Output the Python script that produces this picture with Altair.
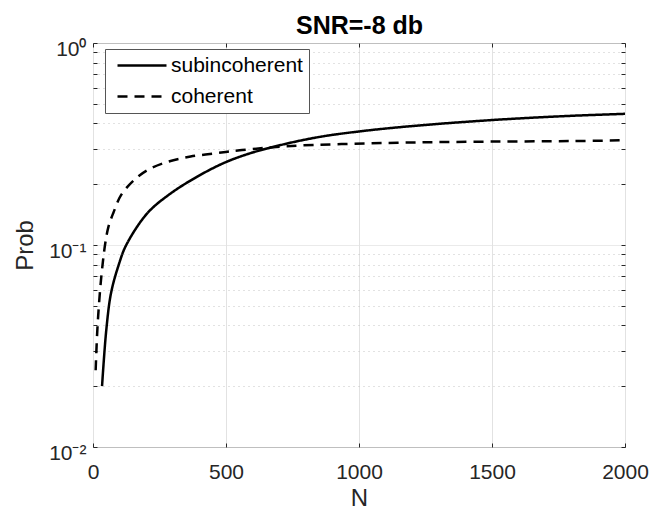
import altair as alt
import pandas as pd

# ---- data ----
series_names = ["subincoherent", "coherent"]

n_sub = [34, 50, 68, 97, 125, 205, 292, 392, 490, 578, 690, 847, 1009, 1200, 1494, 1780, 2000]
p_sub = [0.020, 0.038, 0.058, 0.080, 0.100, 0.144, 0.180, 0.218, 0.254, 0.281,
         0.309, 0.342, 0.366, 0.388, 0.415, 0.435, 0.446]

n_coh = [10, 17, 30, 46, 58, 76, 106, 155, 205, 280, 367, 466, 560, 722, 934, 1208, 1500, 1800, 2000]
p_coh = [0.024, 0.0395, 0.067, 0.1017, 0.123, 0.1437, 0.177, 0.210, 0.235, 0.258,
         0.274, 0.285, 0.295, 0.308, 0.316, 0.322, 0.325, 0.327, 0.330]

x_ticks = [0, 500, 1000, 1500, 2000]
y_ticks = [0.01, 0.02, 0.03, 0.04, 0.05, 0.06, 0.07, 0.08, 0.09,
           0.1, 0.2, 0.3, 0.4, 0.5, 0.6, 0.7, 0.8, 0.9, 1.0]
y_major = [0.01, 0.1, 1.0]
title_text = "SNR=-8 db"

rows = []
for n, p in zip(n_sub, p_sub):
    rows.append({"N": n, "Prob": p, "series": series_names[0]})
for n, p in zip(n_coh, p_coh):
    rows.append({"N": n, "Prob": p, "series": series_names[1]})
df = pd.DataFrame(rows)

FONT = "Liberation Sans"
TXT = "#262626"
major_test = "indexof(%s, datum.value) >= 0" % str(y_major)

x_scale = alt.Scale(domain=[0, 2000], nice=False)
y_scale = alt.Scale(type="log", domain=[0.01, 1], nice=False)

lines = alt.Chart(df).mark_line(strokeWidth=2.5, color="black", interpolate="catmull-rom").encode(
    x=alt.X("N:Q", scale=x_scale,
            axis=alt.Axis(values=x_ticks, orient="bottom", title="N", offset=-4, tickSize=4,
                          tickColor=TXT, domain=False, grid=True, gridColor="#e2e2e2",
                          labelFont=FONT, labelFontSize=21, labelColor=TXT, labelPadding=14,
                          labelFlush=False, format="d",
                          titleFont=FONT, titleFontSize=24, titleFontWeight="normal",
                          titleColor=TXT, titleBaseline="alphabetic", titleY=62)),
    y=alt.Y("Prob:Q", scale=y_scale,
            axis=alt.Axis(values=y_ticks, orient="left", title="Prob", offset=-4, tickSize=4,
                          tickColor=TXT, domain=False, grid=True,
                          gridColor={"condition": {"test": major_test, "value": "#e2e2e2"}, "value": "#c4c4c4"},
                          gridDash={"condition": {"test": major_test, "value": [1, 0]}, "value": [1, 4]},
                          labelExpr="datum.value == 1 ? '10⁰' : datum.value == 0.1 ? '10⁻¹' : datum.value == 0.01 ? '10⁻²' : ''",
                          labelOverlap=False, labelFont=FONT, labelFontSize=21, labelColor=TXT,
                          labelPadding=7, labelOffset=6,
                          titleFont=FONT, titleFontSize=24, titleFontWeight="normal",
                          titleColor=TXT, titleBaseline="alphabetic", titleX=-65)),
    strokeDash=alt.StrokeDash("series:N",
                              scale=alt.Scale(domain=series_names, range=[[1, 0], [10, 7]]),
                              legend=alt.Legend(title=None, orient="none", legendX=12, legendY=6,
                                                symbolType="stroke", symbolSize=2400,
                                                symbolStrokeWidth=2.5, symbolStrokeColor="black",
                                                clipHeight=21, rowPadding=9, padding=6,
                                                symbolOffset=5, labelOffset=3,
                                                labelFont=FONT, labelFontSize=21, labelColor="black",
                                                strokeColor="#555555", fillColor="white")),
)

frame = alt.Chart(df).mark_line(opacity=0).encode(
    x=alt.X("N:Q", scale=x_scale,
            axis=alt.Axis(values=x_ticks, orient="top", title=title_text, labels=False, grid=False,
                          domain=False, offset=-4, tickSize=4, tickColor=TXT,
                          titleFont=FONT, titleFontSize=25, titleFontWeight="bold",
                          titleColor="black", titleBaseline="alphabetic", titleY=-14)),
    y=alt.Y("Prob:Q", scale=y_scale,
            axis=alt.Axis(values=y_ticks, orient="right", title=None, labels=False, grid=False,
                          domain=False, offset=-4, tickSize=4, tickColor=TXT)),
    detail="series:N",
)

chart = alt.layer(lines, frame).resolve_scale(x="independent", y="independent").properties(
    width=532, height=404,
    autosize=alt.AutoSizeParams(type="none"),
    padding={"left": 85, "top": 35, "right": 24, "bottom": 63},
).configure_view(stroke="#555555", strokeWidth=1)

chart.save("out.html", embed_options={"renderer": "svg", "actions": False})
